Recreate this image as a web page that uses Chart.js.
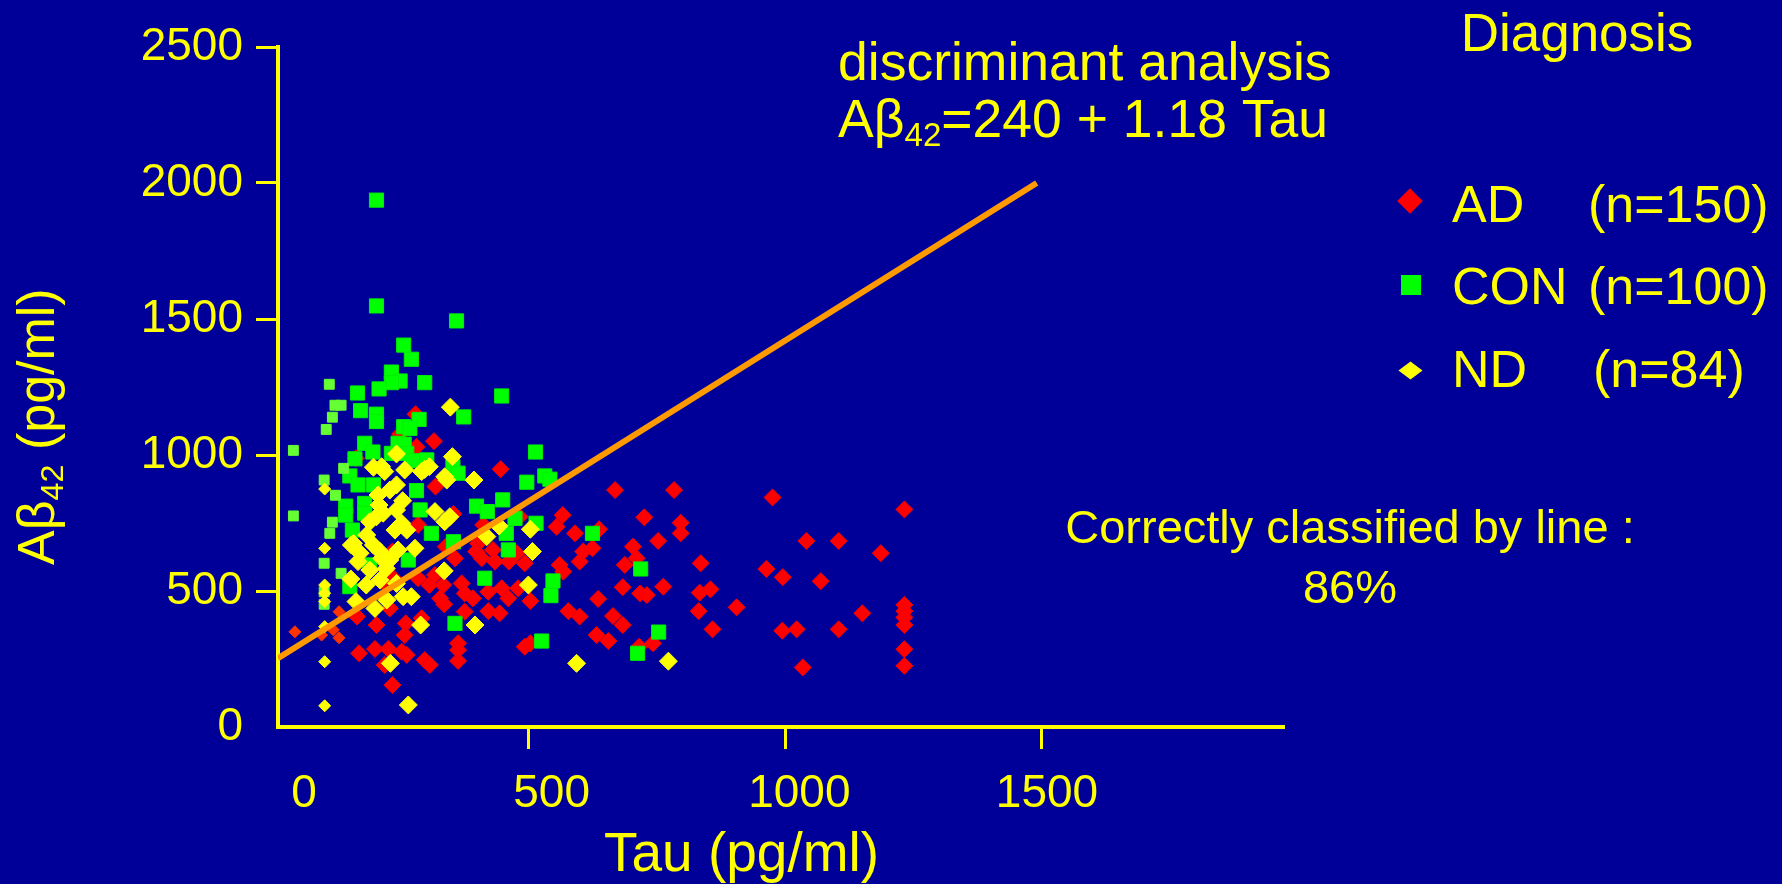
<!DOCTYPE html>
<html>
<head>
<meta charset="utf-8">
<script src="https://cdn.jsdelivr.net/npm/chart.js@4.4.0/dist/chart.umd.min.js"></script>
<style>
  html, body { margin: 0; padding: 0; background: #000099; }
  #wrap {
    position: relative; width: 1782px; height: 884px; overflow: hidden;
    background: #000099; color: #ffff00;
    font-family: 'Liberation Sans', Arial, sans-serif;
  }
  #wrap canvas { position: absolute; left: 0; top: 0; }
  .txt { position: absolute; line-height: 1; white-space: nowrap; }
  .sub { font-size: 0.62em; position: relative; top: 0.28em; }
  .center { transform: translateX(-50%); text-align: center; }
  .row { position: absolute; left: 0; width: 392px; height: 60px; }
  .row .lab { position: absolute; left: 62px; top: 0; font-size: 52px; line-height: 1; }
  .row .cnt { position: absolute; top: 0; font-size: 52px; line-height: 1; }
  .mk { position: absolute; }
</style>
</head>
<body>
<div id="wrap">
  <canvas id="plot" width="1782" height="884"></canvas>

  <div class="txt" style="left:838px; top:35px; font-size:53.5px;">discriminant analysis</div>
  <div class="txt" style="left:838px; top:92px; font-size:53.5px;">A&beta;<span class="sub">42</span>=240 + 1.18 Tau</div>

  <div class="txt center" style="left:1577px; top:6px; font-size:53px;">Diagnosis</div>
  <div id="legend" style="position:absolute; left:1390px; top:178px;"></div>

  <div class="txt center" style="left:1350px; top:503px; font-size:47px;">Correctly classified by line :</div>
  <div class="txt center" style="left:1350px; top:563px; font-size:47px;">86%</div>

  <div class="txt" style="left:604px; top:825px; font-size:55px;">Tau (pg/ml)</div>
  <div class="txt" style="left:10px; top:565px; font-size:52px; transform-origin:0 0; transform:rotate(-90deg);">A&beta;<span class="sub">42</span> (pg/ml)</div>
</div>

<script>
// values: [Tau, Abeta42] in pg/ml
const adPoints = [
  [279,1150],[315,1051],[281,1030],[249,1077],[163,988],[318,884],[284,743],[338,663],[234,645],
  [445,948],[668,871],[353,783],[411,743],[482,773],[566,779],[554,736],[590,712],[637,727],
  [606,645],[624,657],[703,663],[401,675],[397,645],[430,651],[476,639],
  [216,534],[236,547],[306,522],[333,522],[284,547],[317,559],[335,451],[327,473],[229,436],
  [165,406],[130,424],[291,400],[260,381],[258,338],[203,375],[44,350],[119,357],[96,338],
  [130,328],[169,271],[200,287],[226,287],[252,277],[262,265],[297,246],[307,228],[219,228],[234,154],
  [356,620],[408,620],[434,608],[461,608],[492,602],[560,596],[567,571],[599,608],[687,596],
  [710,620],[369,528],[683,514],[447,510],[479,510],[421,497],[391,473],[375,491],[503,463],
  [460,473],[635,471],[421,426],[443,418],[375,424],[577,426],[599,406],[664,408],[683,375],
  [632,338],[655,316],[362,308],[362,243],[362,283],[492,295],[503,308],
  [783,871],[975,844],[1232,800],[725,771],[796,751],[796,712],[752,684],[1041,684],[1104,684],
  [1186,639],[835,602],[963,581],[995,551],[1069,536],[833,494],[854,506],[905,440],[831,426],
  [858,359],[994,354],[1022,359],[1104,359],[1150,418],[1232,449],[1232,426],[1232,403],
  [1232,375],[1232,286],[1232,225],[1034,219],[715,295],[742,308],[717,491],[730,485],[762,516]
];

const conPoints = [
  [203,1937],[203,1548],[359,1493],[256,1404],[271,1352],[232,1305],[249,1272],[232,1266],
  [297,1266],[208,1243],[166,1228],[447,1217],[111,1260],[122,1183],[134,1183],[172,1163],
  [203,1150],[203,1123],[117,1139],[105,1094],[41,1017],[373,1140],[286,1131],[256,1104],
  [268,1098],[180,1043],[196,1011],[245,1043],[257,1040],[513,1011],[232,1006],[262,1006],
  [161,986],[151,923],[167,890],[197,890],[274,979],[301,982],[281,869],[180,822],[180,786],
  [143,812],[143,779],[288,798],[310,712],[139,951],[123,852],[41,776],[117,753],[112,712],
  [101,908],[156,724],
  [352,957],[362,933],[496,900],[531,923],[541,911],[449,835],[398,812],[419,792],[473,767],
  [456,712],[514,749],[624,712],[460,651],[353,681],
  [101,602],[134,565],[151,516],[101,497],[101,451],[190,596],[265,614],
  [414,547],[547,537],[543,483],[356,381],[525,316],
  [718,581],[753,349],[712,271]
];

const ndPoints = [
  [347,1176],[242,1004],[351,994],
  [197,955],[213,957],[219,939],[258,945],[297,947],[291,939],[306,957],[336,920],[242,890],
  [229,871],[206,853],[208,816],[254,832],[242,798],[317,792],[336,755],[203,773],[216,786],
  [190,755],[252,749],[262,724],[239,724],[102,875],[184,706],[158,675],[102,657],[154,669],
  [171,639],[197,669],[210,645],[245,651],[278,657],
  [340,908],[393,908],[346,773],[442,739],[418,700],[503,727],[507,645],
  [153,544],[102,522],[102,492],[102,461],[167,608],[190,577],[183,522],[210,540],[222,583],
  [213,620],[229,614],[242,528],[163,461],[200,436],[223,467],[255,479],[271,479],[335,574],
  [289,375],[102,369],[230,234],[102,240],[102,78],[265,81],
  [499,522],[395,375],[593,234],
  [772,242]
];

// discriminant line end points (A-beta42 = 240 + 1.18 Tau)
const fitLine = [[11,253],[1490,2000]];

const groupNames = ['AD', 'CON', 'ND'];
const groupCounts = [150, 100, 84];

const xTickValues = [0, 500, 1000, 1500];
const yTickValues = [0, 500, 1000, 1500, 2000, 2500];

const YELLOW = '#ffff00';
const FONT = "'Liberation Sans', Arial, sans-serif";
Chart.defaults.font.family = FONT;

const toXY = pts => pts.map(p => ({ x: p[0], y: p[1] }));
const small = (ctx, limit) => ctx.raw && ctx.raw.x < limit;

const chart = new Chart(document.getElementById('plot'), {
  type: 'scatter',
  data: {
    datasets: [
      {
        label: groupNames[0], data: toXY(adPoints), order: 3,
        pointStyle: 'rectRot',
        pointRadius: ctx => small(ctx, 135) ? 6 : 8.5,
        backgroundColor: ctx => small(ctx, 135) ? '#ff3300' : '#ff0000',
        borderColor: ctx => small(ctx, 135) ? '#ff3300' : '#f00000',
        borderWidth: 1
      },
      {
        label: groupNames[1], data: toXY(conPoints), order: 2,
        pointStyle: 'rect',
        pointRadius: ctx => small(ctx, 140) ? 7 : 10,
        backgroundColor: ctx => small(ctx, 140) ? '#66ff33' : '#00ff00',
        borderColor: ctx => small(ctx, 140) ? '#66ff33' : '#00f000',
        borderWidth: 1
      },
      {
        label: groupNames[2], data: toXY(ndPoints), order: 1,
        pointStyle: 'rectRot',
        pointRadius: ctx => small(ctx, 110) ? 6 : 9,
        backgroundColor: YELLOW,
        borderColor: YELLOW,
        borderWidth: 1
      },
      {
        label: 'discriminant', data: toXY(fitLine), order: 0,
        showLine: true, borderColor: '#ff9900', borderWidth: 6,
        pointRadius: 0, fill: false
      }
    ]
  },
  options: {
    responsive: false,
    animation: false,
    events: [],
    layout: { padding: { top: 47, right: 498, bottom: 0, left: 0 } },
    plugins: { legend: { display: false }, tooltip: { enabled: false } },
    scales: {
      x: {
        type: 'linear', position: 'bottom', weight: 0,
        min: 11, max: 1972,
        afterBuildTicks: axis => {
          axis.ticks = xTickValues.filter(v => v >= axis.min).map(v => ({ value: v }));
        },
        afterFit: axis => { axis.height = 22; },
        ticks: { display: false },
        grid: { drawOnChartArea: false, tickLength: 22, tickWidth: 3, tickColor: YELLOW },
        border: { display: true, color: YELLOW, width: 4 }
      },
      // tick labels sit a little right of the tick marks in the original slide
      xLabels: {
        type: 'linear', axis: 'x', position: 'bottom', weight: 1,
        min: -52.5, max: 1978.5,
        afterBuildTicks: axis => { axis.ticks = xTickValues.map(v => ({ value: v })); },
        afterFit: axis => { axis.height = 135; },
        ticks: {
          color: YELLOW, padding: 14, autoSkip: false, maxRotation: 0,
          font: { size: 46, lineHeight: 1 },
          callback: v => String(v)
        },
        grid: { display: false },
        border: { display: false }
      },
      y: {
        type: 'linear', position: 'left',
        min: 0, max: 2500,
        afterBuildTicks: axis => { axis.ticks = yTickValues.map(v => ({ value: v })); },
        afterFit: axis => { axis.width = 278; },
        ticks: {
          color: YELLOW, padding: 13,
          font: { size: 46, lineHeight: 1 },
          callback: v => String(v)
        },
        grid: {
          drawOnChartArea: false, tickLength: 22, tickWidth: 3,
          tickColor: ctx => (ctx.tick && ctx.tick.value === 0) ? 'rgba(0,0,0,0)' : YELLOW
        },
        border: { display: true, color: YELLOW, width: 4 }
      }
    }
  }
});

// legend built from the chart's own datasets
const markerCss = {
  AD:  'width:18px;height:18px;left:11px;top:14px;transform:rotate(45deg);',
  CON: 'width:20px;height:20px;left:11px;top:15px;',
  ND:  'width:17px;height:17px;left:12px;top:19px;transform:scaleY(0.75) rotate(45deg);'
};
const markerColor = { AD: '#ff0000', CON: '#00ff00', ND: YELLOW };
const countLeft = { AD: 198, CON: 198, ND: 203 };
const rowTops = [0, 82, 165];
const legendEl = document.getElementById('legend');
chart.data.datasets.slice(0, 3).forEach((ds, i) => {
  const row = document.createElement('div');
  row.className = 'row';
  row.style.top = rowTops[i] + 'px';
  const mk = document.createElement('div');
  mk.className = 'mk';
  mk.style.cssText = markerCss[ds.label] + 'background:' + markerColor[ds.label] + ';';
  const lab = document.createElement('div');
  lab.className = 'lab';
  lab.textContent = ds.label;
  const cnt = document.createElement('div');
  cnt.className = 'cnt';
  cnt.style.left = countLeft[ds.label] + 'px';
  cnt.textContent = '(n=' + groupCounts[i] + ')';
  row.appendChild(mk); row.appendChild(lab); row.appendChild(cnt);
  legendEl.appendChild(row);
});
</script>
</body>
</html>
